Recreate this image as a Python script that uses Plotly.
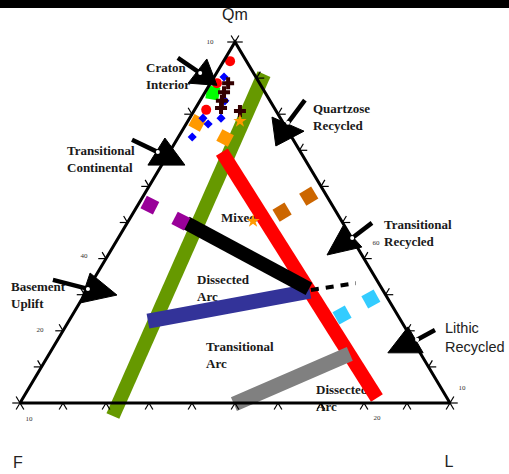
import plotly.graph_objects as go

# ---------------- data (ternary compositions in %, F = 100 - Qm - L) ----------------
tick_vals = [0, 10, 20, 30, 40, 50, 60, 70, 80, 90, 100]

# thick field-boundary bars: endpoints as (Qm, L)
bar_qm = [[-3.6, 91.1], [69.5, 1.4], [-0.3, 13.6], [22.7, 31.0], [49.9, 31.6]]
bar_l = [[23.4, 11.2], [12.2, 82.3], [49.9, 69.9], [18.4, 51.9], [13.7, 51.4]]
bar_colors = ["#669900", "#ff0000", "#808080", "#333399", "#000000"]

dash_qm = [31.3, 33.2]
dash_l = [52.0, 61.5]

purple_qm = [54.8, 50.4]
purple_l = [2.8, 12.2]
brown_qm = [52.9, 57.3]
brown_l = [34.5, 38.5]
cyan_qm = [24.4, 28.8]
cyan_l = [62.7, 67.2]
orange_qm = [77.6, 73.4]
orange_l = [2.4, 11.0]
lime_qm = [85.9]
lime_l = [1.9]

circle_qm = [94.7, 88.6, 81.2]
circle_l = [1.5, 1.5, 2.7]
diamond_qm = [90.3, 83.7, 78.9, 78.9, 77.3, 73.7]
diamond_l = [2.3, 5.8, 7.3, 3.1, 5.1, 3.2]
cross_qm = [88.6, 86.1, 83.7, 81.7, 80.9]
cross_l = [4.1, 4.4, 5.1, 5.9, 10.7]
star_qm = [78.1, 50.4]
star_l = [12.1, 29.0]

# provenance arrows: stick (tail, end) and head triangle, as (Qm, L)
arrow_stick_qm = [[95.6, 91.4], [72.9, 69.5], [34.1, 31.6], [83.9, 77.6], [49.9, 45.7], [20.2, 17.5]]
arrow_stick_l = [[-11.1, -3.8], [-10.4, -2.7], [-9.4, 0.0], [24.3, 23.5], [56.9, 54.4], [86.4, 83.6]]
arrow_head_qm = [[95.3, 88.6, 88.0], [73.4, 65.9, 65.9], [36.0, 27.7, 29.9],
                 [79.2, 75.3, 71.2], [49.0, 41.0, 43.2], [21.1, 13.9, 13.9]]
arrow_head_l = [[-4.2, -5.2, 1.8], [-3.0, -3.2, 5.4], [-1.7, 0.1, 7.6],
                [19.0, 28.4, 23.9], [50.6, 50.9, 57.9], [79.7, 78.6, 86.8]]

field_labels = ["Craton<br>Interior", "Quartzose<br>Recycled", "Transitional<br>Continental",
                "Transitional<br>Recycled", "Basement<br>Uplift", "Mixed", "Dissected<br>Arc",
                "Transitional<br>Arc", "Dissected<br>Arc"]
field_label_px = [(146, 77), (313, 118), (67, 160), (384, 234), (11, 296), (221, 219),
                  (197, 289), (206, 356), (316, 399)]

number_labels = ["10", "10", "40", "20", "60", "10", "20"]
number_label_px = [(210, 42), (29, 419), (84, 256), (40, 330), (376, 243), (462, 388), (377, 418)]


# ---------------- helpers ----------------
def txy(qm, l):
    """ternary (Qm, L) -> cartesian plot coordinates"""
    return l + qm / 2.0, qm


def pix(px, py):
    """layout position in figure pixels -> plot coordinates"""
    return (px - 20) / 4.3, (403 - py) / 3.61


def pts(qms, ls):
    xs, ys = [], []
    for q, l in zip(qms, ls):
        x, y = txy(q, l)
        xs.append(x)
        ys.append(y)
    return xs, ys


fig = go.Figure()

# field labels (drawn first, under the marks)
serif = "Liberation Serif, Times New Roman, serif"
for lab, (px, py) in zip(field_labels, field_label_px):
    x, y = pix(px, py)
    fig.add_trace(go.Scatter(x=[x], y=[y], mode="text", text=[lab], textposition="middle right",
                             textfont=dict(family=serif, size=13, color="#1a1a1a", weight="bold"),
                             cliponaxis=False, hoverinfo="skip"))

# sans labels
sans = "Liberation Sans, Arial, sans-serif"
x, y = pix(445, 339)
fig.add_trace(go.Scatter(x=[x], y=[y], mode="text", text=["Lithic<br>Recycled"],
                         textposition="middle right",
                         textfont=dict(family=sans, size=14.5, color="#222222"),
                         cliponaxis=False, hoverinfo="skip"))
for lab, (px, py) in zip(["Qm", "F", "L"], [(235, 16), (18, 464), (449, 463)]):
    x, y = pix(px, py)
    fig.add_trace(go.Scatter(x=[x], y=[y], mode="text", text=[lab], textposition="middle center",
                             textfont=dict(family=sans, size=16, color="#222222"),
                             cliponaxis=False, hoverinfo="skip"))
for lab, (px, py) in zip(number_labels, number_label_px):
    x, y = pix(px, py)
    fig.add_trace(go.Scatter(x=[x], y=[y], mode="text", text=[lab], textposition="middle center",
                             textfont=dict(family=serif, size=7, color="#333333"),
                             cliponaxis=False, hoverinfo="skip"))

# thick bars
bar_widths = [14, 14, 15, 15, 14]
for q, l, c, w in zip(bar_qm, bar_l, bar_colors, bar_widths):
    xs, ys = pts(q, l)
    fig.add_trace(go.Scatter(x=xs, y=ys, mode="lines", line=dict(color=c, width=w),
                             cliponaxis=False, hoverinfo="skip"))
xs, ys = pts(dash_qm, dash_l)
fig.add_trace(go.Scatter(x=xs, y=ys, mode="lines",
                         line=dict(color="#000000", width=4, dash="8px,7px"),
                         cliponaxis=False, hoverinfo="skip"))

# square segments
for q, l, c, a, s in [(purple_qm, purple_l, "#990099", 27, 14),
                      (brown_qm, brown_l, "#cc6600", -31, 14),
                      (cyan_qm, cyan_l, "#33ccff", -29, 14),
                      (orange_qm, orange_l, "#ff9900", 28, 13),
                      (lime_qm, lime_l, "#00ff00", 10, 13)]:
    xs, ys = pts(q, l)
    fig.add_trace(go.Scatter(x=xs, y=ys, mode="markers",
                             marker=dict(symbol="square", size=s, color=c, angle=a, line=dict(width=0)),
                             cliponaxis=False, hoverinfo="skip"))

# small sample markers
xs, ys = pts(circle_qm, circle_l)
fig.add_trace(go.Scatter(x=xs, y=ys, mode="markers",
                         marker=dict(symbol="circle", size=10, color="#ff0000", line=dict(width=0)),
                         hoverinfo="skip"))
xs, ys = pts(diamond_qm, diamond_l)
fig.add_trace(go.Scatter(x=xs, y=ys, mode="markers",
                         marker=dict(symbol="diamond", size=7, color="#0000ff", line=dict(width=0)),
                         hoverinfo="skip"))
xs, ys = pts(cross_qm, cross_l)
fig.add_trace(go.Scatter(x=xs, y=ys, mode="markers",
                         marker=dict(symbol="cross", size=10, color="#330000", line=dict(width=0)),
                         hoverinfo="skip"))
xs, ys = pts(star_qm, star_l)
fig.add_trace(go.Scatter(x=xs, y=ys, mode="markers",
                         marker=dict(symbol="star", size=10, color="#ff9900", line=dict(width=0)),
                         hoverinfo="skip"))

# triangle outline
xs, ys = pts([0, 0, 100, 0], [0, 100, 0, 0])
fig.add_trace(go.Scatter(x=xs, y=ys, mode="lines", line=dict(color="#000000", width=3),
                         cliponaxis=False, hoverinfo="skip"))

# edge ticks (outward chevrons following the ternary grid directions)
t = 1.8
tx, ty = [], []
for v in tick_vals:
    segs = [((0, v), (-t, v)), ((0, v), (-t, v + t)),                       # base F-L
            ((v, 0), (v, -t)), ((v, 0), (v + t, -t)),                       # left edge F-Qm
            ((v, 100 - v), (v, 100 - v + t)), ((v, 100 - v), (v + t, 100 - v))]  # right edge
    for (q0, l0), (q1, l1) in segs:
        a, b = txy(q0, l0)
        c, d = txy(q1, l1)
        tx += [a, c, None]
        ty += [b, d, None]
fig.add_trace(go.Scatter(x=tx, y=ty, mode="lines", line=dict(color="#000000", width=1.2),
                         cliponaxis=False, hoverinfo="skip"))

# arrows
for sq, sl, hq, hl in zip(arrow_stick_qm, arrow_stick_l, arrow_head_qm, arrow_head_l):
    xs, ys = pts(hq + [hq[0]], hl + [hl[0]])
    fig.add_trace(go.Scatter(x=xs, y=ys, mode="lines", fill="toself", fillcolor="#000000",
                             line=dict(color="#000000", width=1), cliponaxis=False, hoverinfo="skip"))
    xs, ys = pts(sq, sl)
    fig.add_trace(go.Scatter(x=xs, y=ys, mode="lines", line=dict(color="#000000", width=4.5),
                             cliponaxis=False, hoverinfo="skip"))
    xe, ye = txy(sq[1], sl[1])
    fig.add_trace(go.Scatter(x=[xe], y=[ye], mode="markers",
                             marker=dict(symbol="circle", size=4, color="#ffffff", line=dict(width=0)),
                             cliponaxis=False, hoverinfo="skip"))

fig.update_layout(
    width=509, height=474,
    margin=dict(l=0, r=0, t=0, b=0, pad=0),
    paper_bgcolor="#ffffff", plot_bgcolor="#ffffff",
    showlegend=False,
    xaxis=dict(range=[-20 / 4.3, 489 / 4.3], visible=False, fixedrange=True),
    yaxis=dict(range=[(403 - 474) / 3.61, 403 / 3.61], visible=False, fixedrange=True),
    shapes=[dict(type="rect", xref="paper", yref="paper", layer="above",
                 x0=0, x1=1, y0=1 - 8 / 474, y1=1,
                 fillcolor="#000000", line=dict(width=0))],
)

fig.write_html("out.html", config={"displayModeBar": False},
               post_script="document.body.style.margin='0';document.body.style.overflow='hidden';")
